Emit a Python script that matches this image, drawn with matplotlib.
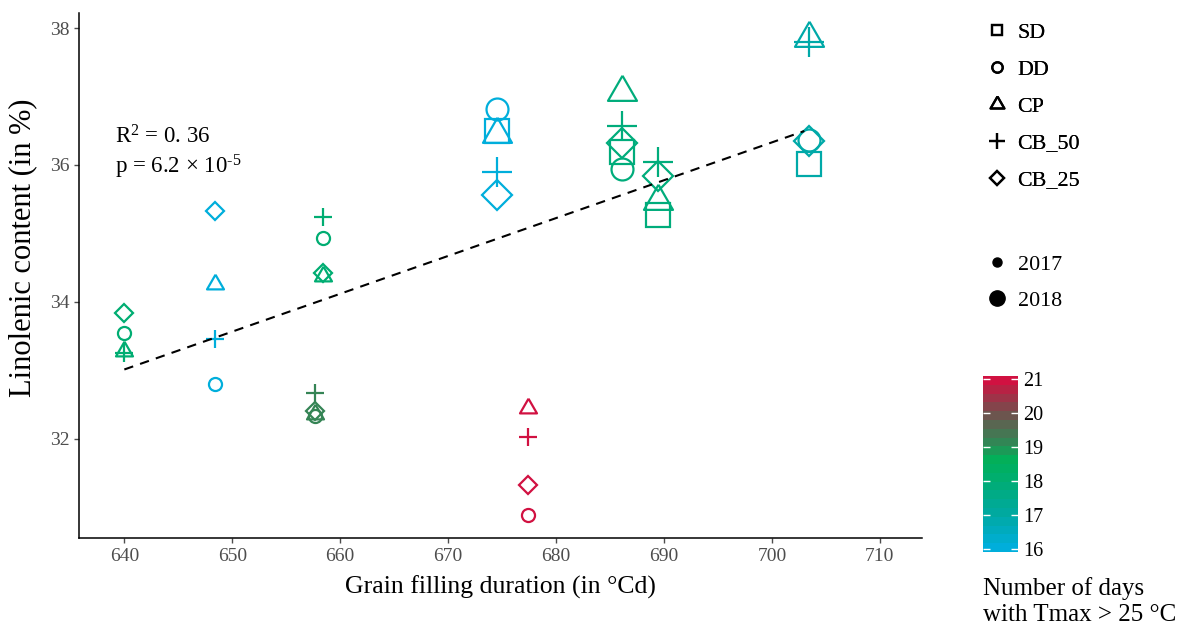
import numpy as np
import matplotlib
matplotlib.use('Agg')
import matplotlib.pyplot as plt
from matplotlib.colors import LinearSegmentedColormap, Normalize
from matplotlib.cm import ScalarMappable
from matplotlib.lines import Line2D

plt.rcParams['font.family'] = ['Liberation Serif', 'DejaVu Serif']
plt.rcParams['mathtext.fontset'] = 'custom'
plt.rcParams['mathtext.rm'] = 'Liberation Serif'
plt.rcParams['mathtext.it'] = 'Liberation Serif:italic'

# one row per point: treatment, grain filling duration, linolenic content, year, hot days
treatment = ['DD', 'CP', 'CB_50', 'CB_25',
             'DD', 'CP', 'CB_50', 'CB_25',
             'DD', 'CP', 'CB_50', 'CB_25',
             'DD', 'CP', 'CB_50', 'CB_25',
             'DD', 'CP', 'CB_50', 'CB_25',
             'SD', 'DD', 'CP', 'CB_50', 'CB_25',
             'SD', 'DD', 'CP', 'CB_50', 'CB_25',
             'SD', 'CP', 'CB_50', 'CB_25',
             'SD', 'DD', 'CP', 'CB_50', 'CB_25']
duration = [640.0, 640.0, 640.0, 640.0,
            648.4, 648.4, 648.4, 648.4,
            658.4, 658.4, 658.4, 658.4,
            657.7, 657.7, 657.7, 657.7,
            677.4, 677.4, 677.4, 677.4,
            674.5, 674.5, 674.5, 674.5, 674.5,
            686.1, 686.1, 686.1, 686.1, 686.1,
            689.4, 689.4, 689.4, 689.4,
            703.4, 703.4, 703.4, 703.4, 703.4]
linolenic = [33.55, 33.28, 33.25, 33.84,
             32.80, 34.26, 33.45, 35.33,
             34.93, 34.38, 35.24, 34.42,
             32.33, 32.36, 32.67, 32.40,
             30.88, 32.45, 32.02, 31.32,
             36.50, 36.82, 36.45, 35.90, 35.56,
             36.19, 35.94, 37.07, 36.57, 36.32,
             35.27, 35.48, 36.04, 35.84,
             36.02, 36.37, 37.86, 37.79, 36.35]
year = [2017] * 20 + [2018] * 19
hot_days = [18.0] * 4 + [16.0] * 4 + [18.0] * 4 + [19.2] * 4 + [21.0] * 4 + \
           [16.0] * 5 + [17.8] * 5 + [17.8] * 4 + [16.9] * 5

shape_labels = ['SD', 'DD', 'CP', 'CB_50', 'CB_25']
year_labels = [2017, 2018]
cbar_ticks = [16, 17, 18, 19, 20, 21]

# regression line (fitted in the paper)
fit_x = np.array([640.0, 703.0])
slope, intercept = 0.0553, -2.38

tri = [(0, 1), (-0.866, -0.5), (0.866, -0.5), (0, 1)]
markers = {'SD': 's', 'DD': 'o', 'CP': tri, 'CB_50': '+', 'CB_25': 'D'}
msize = {2017: {'SD': 9.8, 'DD': 9.4, 'CP': 14.1, 'CB_50': 13, 'CB_25': 9.2},
         2018: {'SD': 16.6, 'DD': 15.8, 'CP': 24.1, 'CB_50': 22.3, 'CB_25': 15.3}}

cmap = LinearSegmentedColormap.from_list(
    'days', [(0.0, '#00AEDB'), (0.2, '#00A9A2'), (0.4, '#00AD72'), (0.52, '#00B159'),
             (0.62, '#2E8A56'), (0.8, '#70524E'), (1.0, '#D11141')])
norm = Normalize(vmin=16, vmax=21)

fig = plt.figure(figsize=(11.82, 6.25), dpi=100)
ax = fig.add_axes([79 / 1182, 87 / 625, 843 / 1182, 525 / 625])

for t, x, y, yr, d in zip(treatment, duration, linolenic, year, hot_days):
    ax.plot(x, y, ls='none', marker=markers[t], ms=msize[yr][t], mfc='none',
            mec=cmap(norm(d)), mew=1.6)

ax.plot(fit_x, slope * fit_x + intercept, color='black', lw=1.5, dashes=(4.5, 3.5))

ax.text(0.043, 0.752, r'R$^{2}$ = 0. 36', transform=ax.transAxes, fontsize=16.5)
ax.text(0.043, 0.695, r'p = 6.2 $\times$ 10$^{\text{-5}}$', transform=ax.transAxes, fontsize=16.5)

ax.set_xlim(635.8, 713.9)
ax.set_ylim(30.55, 38.22)
ax.set_xticks(range(640, 711, 10))
ax.set_yticks([32, 34, 36, 38])
ax.spines['top'].set_visible(False)
ax.spines['right'].set_visible(False)
ax.spines['left'].set_linewidth(1.1)
ax.spines['bottom'].set_linewidth(1.1)
ax.tick_params(colors='#4D4D4D', labelsize=14, length=3.5, width=1)
ax.set_xlabel('Grain filling duration (in °Cd)', fontsize=18.5, labelpad=8)
ax.set_ylabel('Linolenic content (in %)', fontsize=22)
ax.yaxis.set_label_coords(-0.05, 0.552)

# shape legend
shape_handles = [Line2D([], [], ls='none', marker=markers[s], mfc='none', mec='black',
                        mew=1.6, ms={'SD': 7.5, 'DD': 7.5, 'CP': 11.5, 'CB_50': 11, 'CB_25': 7.5}[s])
                 for s in shape_labels]
leg1 = fig.legend(shape_handles, shape_labels, loc='upper left', bbox_to_anchor=(966 / 1182, 1 - 3 / 625),
                  frameon=False, fontsize=15.8, handlelength=1.0, handletextpad=0.45, labelspacing=0.75)
fig.add_artist(leg1)

size_handles = [Line2D([], [], ls='none', marker='o', color='black', ms=m) for m in (6.5, 11)]
fig.legend(size_handles, [str(y) for y in year_labels], loc='upper left',
           bbox_to_anchor=(966 / 1182, 1 - 235 / 625), frameon=False, fontsize=15.8,
           handlelength=1.0, handletextpad=0.45, labelspacing=0.7)

# colour bar
cax = fig.add_axes([983 / 1182, 73 / 625, 35 / 1182, 176 / 625])
cbar = fig.colorbar(ScalarMappable(norm=Normalize(15.9, 21.1), cmap=cmap.resampled(20)), cax=cax)
cbar.outline.set_visible(False)
cbar.set_ticks(cbar_ticks)
cax.tick_params(length=0, labelsize=14.5, pad=4, colors='black')
tr = cax.get_yaxis_transform()
cax.hlines(cbar_ticks, 0, 0.2, color='white', lw=1, transform=tr)
cax.hlines(cbar_ticks, 0.8, 1, color='white', lw=1, transform=tr)
fig.text(983 / 1182, 1 - 577 / 625, 'Number of days\nwith Tmax > 25 °C', fontsize=18,
         va='top', ha='left', linespacing=1.22)

fig.savefig('out.png', dpi=100)
